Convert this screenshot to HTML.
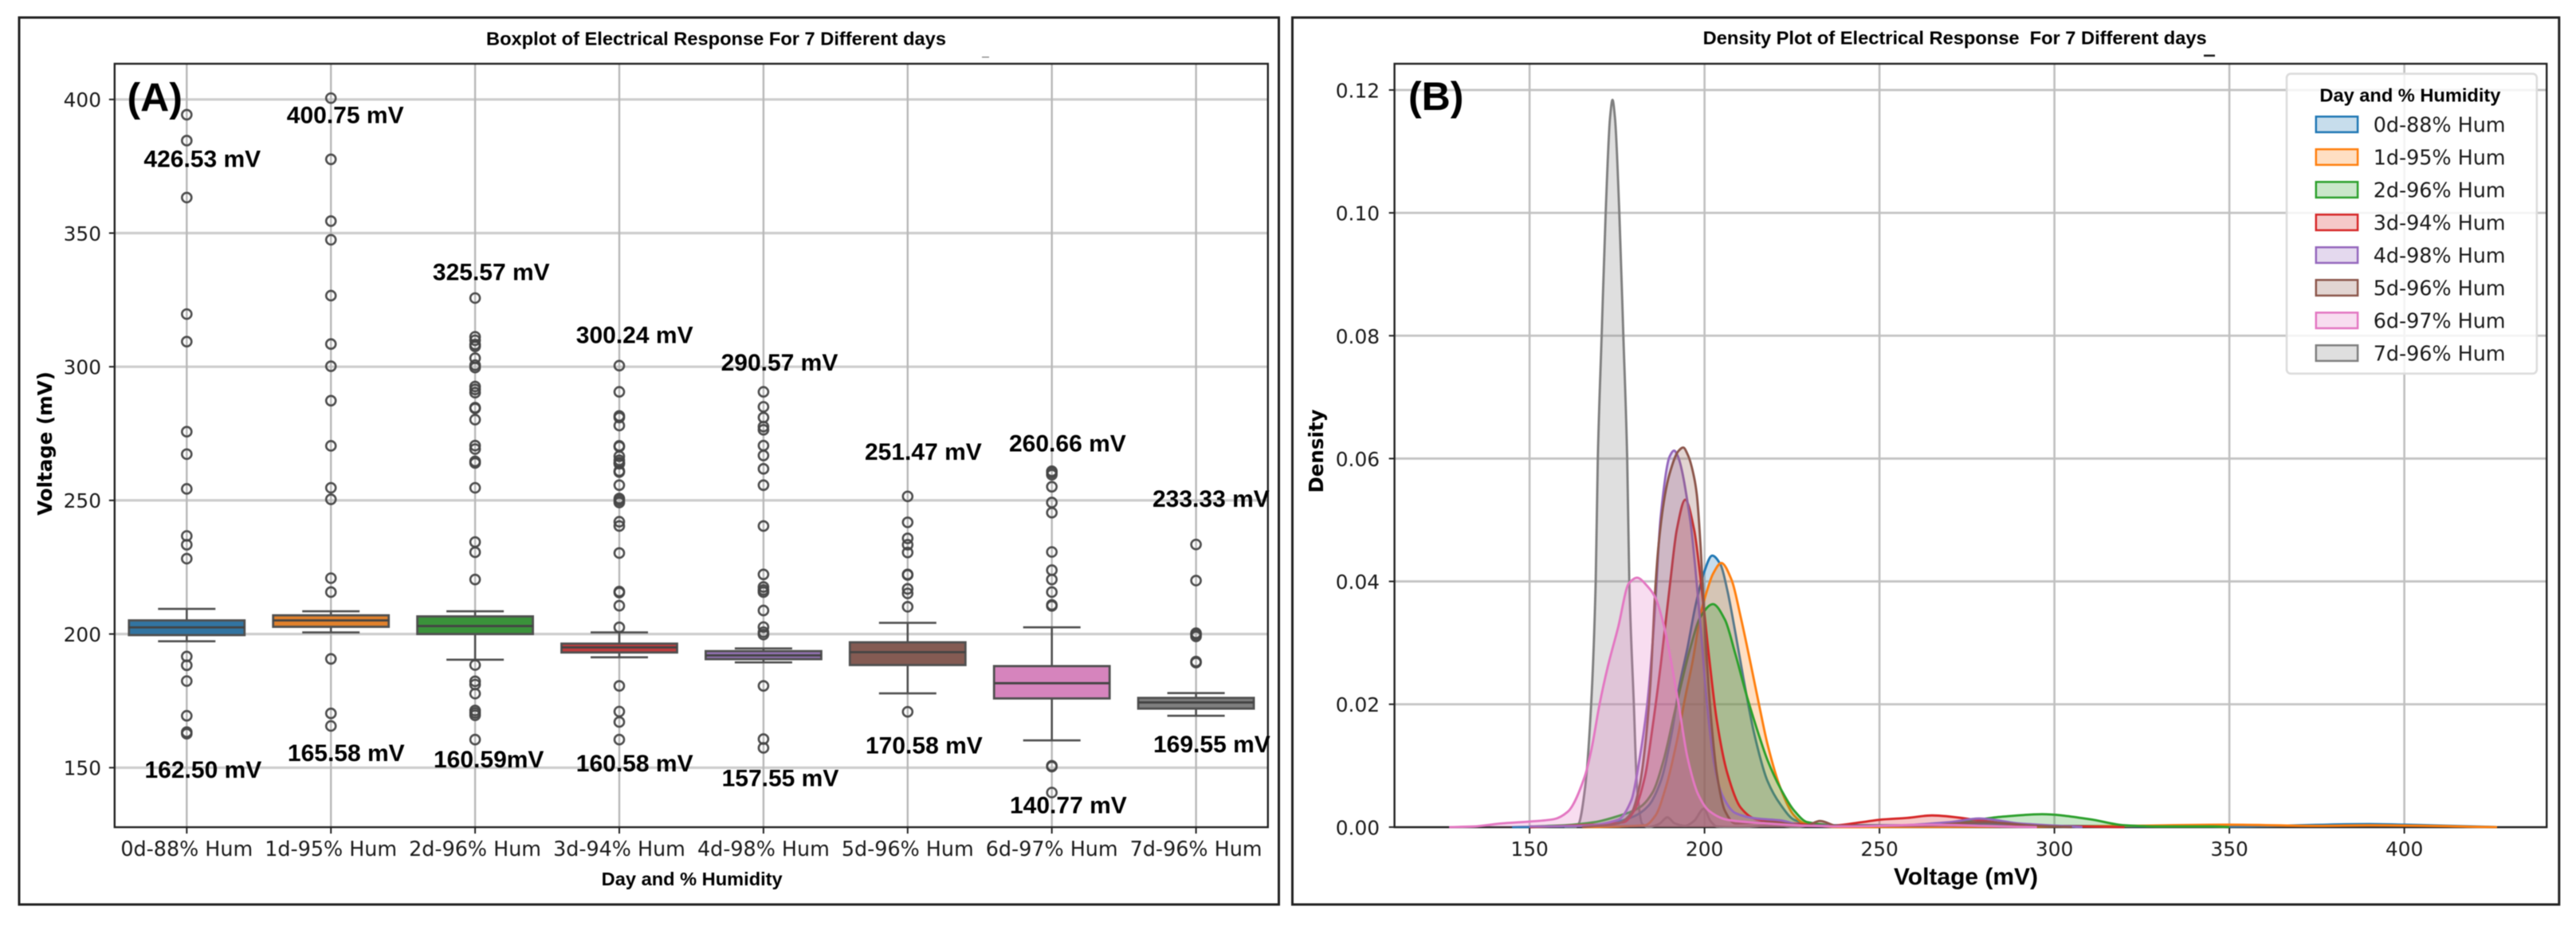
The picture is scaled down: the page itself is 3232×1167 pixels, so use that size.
<!DOCTYPE html>
<html lang="en">
<head>
<meta charset="utf-8">
<title>Electrical Response Boxplot and Density Plot</title>
<style>
html,body{margin:0;padding:0;background:#fff;}
svg{display:block;filter:blur(0.6px);}
.tick{font-family:"DejaVu Sans",sans-serif;font-size:24.8px;fill:#1a1a1a;}
.bold{font-family:"Liberation Sans",sans-serif;font-weight:700;fill:#000;}
.note{font-family:"Liberation Sans",sans-serif;font-weight:700;font-size:30px;fill:#000;}
.axis-dj{font-family:"DejaVu Sans",sans-serif;font-weight:700;font-size:24.5px;fill:#000;}
</style>
</head>
<body>
<svg id="figure" xmlns="http://www.w3.org/2000/svg" width="3232" height="1167" viewBox="0 0 3232 1167">
  <rect x="0" y="0" width="3232" height="1167" fill="#fff"/>
  <rect x="24" y="22" width="1580.5" height="1113" fill="none" stroke="#222" stroke-width="3"/>
  <rect x="1621.5" y="22" width="1589.3" height="1113" fill="none" stroke="#222" stroke-width="3"/>

  <g id="boxplot"></g>
  <g id="density"></g>

  <text class="bold" x="610" y="56.5" font-size="23" textLength="577" lengthAdjust="spacingAndGlyphs">Boxplot of Electrical Response For 7 Different days</text>
  <rect x="1232" y="71" width="9" height="1.4" fill="#888"/>
  <text class="bold" x="754.7" y="1111" font-size="23" textLength="227" lengthAdjust="spacingAndGlyphs">Day and % Humidity</text>
  <text class="axis-dj" text-anchor="middle" transform="translate(65 556.5) rotate(-90)">Voltage (mV)</text>
  <text class="bold" x="159.5" y="139.7" font-size="50">(A)</text>

  <text class="note" x="180.4" y="209.7">426.53 mV</text>
  <text class="note" x="359.8" y="154.6">400.75 mV</text>
  <text class="note" x="542.9" y="351.3">325.57 mV</text>
  <text class="note" x="722.8" y="430.5">300.24 mV</text>
  <text class="note" x="904.6" y="465">290.57 mV</text>
  <text class="note" x="1085" y="577">251.47 mV</text>
  <text class="note" x="1266" y="566.4">260.66 mV</text>
  <text class="note" x="1446" y="636.2">233.33 mV</text>
  <text class="note" x="181.5" y="976">162.50 mV</text>
  <text class="note" x="360.9" y="955">165.58 mV</text>
  <text class="note" x="544" y="963">160.59mV</text>
  <text class="note" x="722.8" y="968">160.58 mV</text>
  <text class="note" x="905.6" y="986.6">157.55 mV</text>
  <text class="note" x="1086" y="945.4">170.58 mV</text>
  <text class="note" x="1267" y="1020.7">140.77 mV</text>
  <text class="note" x="1447" y="944">169.55 mV</text>

  <text class="bold" x="2136.7" y="55.5" font-size="23" textLength="632" lengthAdjust="spacingAndGlyphs" xml:space="preserve">Density Plot of Electrical Response &#160;For 7 Different days</text>
  <rect x="2765" y="68.5" width="14" height="2.6" fill="#222"/>
  <text class="bold" x="2376" y="1110" font-size="30" textLength="181" lengthAdjust="spacingAndGlyphs">Voltage (mV)</text>
  <text class="axis-dj" text-anchor="middle" transform="translate(1660 566) rotate(-90)">Density</text>
  <text class="bold" x="1767" y="137.8" font-size="50">(B)</text>
</svg>

<script>
/* ---------- Boxplot data (mV) ---------- */
const categories = ["0d-88% Hum","1d-95% Hum","2d-96% Hum","3d-94% Hum","4d-98% Hum","5d-96% Hum","6d-97% Hum","7d-96% Hum"];
const boxColors = ["#3274a1","#e1812c","#3a923a","#c03d3e","#9372b2","#845b53","#d684bd","#7f7f7f"];
const whiskerLow  = [197.3,200.6,190.4,191.3,189.4,177.8,160.2,169.4];
const quartile1   = [199.6,202.7,200.0,193.1,190.6,188.4,175.9,172.1];
const medians     = [202.5,205.1,203.0,195.0,192.0,193.2,181.6,174.4];
const quartile3   = [205.1,207.0,206.6,196.4,193.6,196.9,188.0,176.1];
const whiskerHigh = [209.4,208.5,208.5,200.6,194.6,204.2,202.5,177.9];
const fliers0 = [394.3,384.6,363.3,319.7,309.4,275.7,267.3,254.3,236.7,233.4,228.2,191.6,188.3,182.4,169.4,163.3,162.7];
const fliers1 = [400.5,377.6,354.5,347.5,326.6,308.5,300.2,287.3,270.4,254.7,250.4,220.9,215.7,190.7,170.3,165.6];
const fliers2 = [325.7,311.2,309.9,308.3,307.6,303.2,300.6,299.7,292.6,291.5,290.3,284.7,284.4,280.2,270.5,269.2,264.6,264,254.7,234.4,230.6,220.4,188.4,182.3,181.1,177.7,171.4,170.5,169.6,160.5];
const fliers3 = [300.4,290.6,281.6,281,278,270.4,270.1,266.5,265,264.1,263.7,261,260.6,255.7,250.7,250,249.2,242,240.4,230.3,215.9,215.5,210.6,202.5,180.6,171,167.1,160.5];
const fliers4 = [290.6,285,281,277.6,276.4,270.5,266.8,261.8,255.7,240.4,222.3,217.6,216.5,215.7,208.8,202.6,200.7,199.8,180.6,160.7,157.4];
const fliers5 = [251.5,241.8,235.8,233.4,230.5,222.3,222.1,216.9,215.2,210.2,170.9];
const fliers6 = [260.9,260.4,259.6,255.1,249.2,245.4,230.7,223.9,220.4,215.7,210.9,210.5,150.7,150.4,140.7];
const fliers7 = [233.5,220,200.3,199.8,199.1,189.7,189.3];
const allFliers = [fliers0,fliers1,fliers2,fliers3,fliers4,fliers5,fliers6,fliers7];
const voltageTicks = [150,200,250,300,350,400];

/* ---------- Density data: voltage (mV) and density ---------- */
const seriesColors = ["#1f77b4","#ff7f0e","#2ca02c","#d62728","#9467bd","#8c564b","#e377c2","#7f7f7f"];
const voltages0 = [145,165,175,180,184,187.5,190.6,192.8,195.1,197.4,199.7,202.2,204.6,206.5,208.8,211.1,214.2,218,221.8,225.6,232,260,280,300,350,390,400,420,426.5];
const density0  = [0,.0002,.0009,.0018,.0035,.0075,.0152,.023,.0291,.036,.0412,.0442,.0427,.0386,.0317,.0243,.0152,.0075,.0036,.0012,.0003,.0003,.0006,.0002,.0001,.0005,.0004,.0001,0];
const voltages1 = [165,183,186,189,192.1,194.4,196.7,198.9,200.5,202.4,204.8,207.7,210.3,213.4,215.7,218,221.8,225.6,228.6,240,300,320,350,375,390,426.5];
const density1  = [0,.0003,.0019,.0066,.014,.0209,.0273,.0347,.0381,.0412,.043,.0403,.0343,.026,.0196,.0135,.0062,.0019,.0006,0,.0001,.0002,.0004,.0002,.0003,0];
const voltages2 = [150,160,168.5,175.3,181.4,185.2,188.3,191.3,193.6,195.9,198.9,202.4,205.8,208.8,211.9,214.9,218,221.8,225.6,229.4,240,260,275,285,296.5,310,320,330,345,350];
const density2  = [.0001,.0003,.0008,.0018,.0032,.0057,.0109,.0183,.0239,.0291,.0343,.0363,.0338,.0282,.0217,.0161,.0109,.0062,.0027,.0008,.0002,.0003,.001,.0017,.0021,.0013,.0003,.0001,.0001,0];
const voltages3 = [150,164.7,176.9,179.9,183,185.2,187.5,190.2,192.1,194.5,197,198.9,201.2,203.5,206.5,210.3,214.2,218,225.6,235,245,250,258,265,280,290,300,320];
const density3  = [0,.0003,.0008,.0027,.0083,.0165,.0265,.0399,.0485,.0533,.0485,.0403,.0282,.0174,.0088,.0032,.0014,.001,.0006,.0002,.0008,.0012,.0015,.0019,.001,.0004,.0002,0];
const voltages4 = [150,165,175.3,179.1,181.4,183.7,185.6,187.5,190,191.3,192.2,195.9,197.4,198.9,200.5,202.7,205,208.8,214.9,221.8,227.9,250,270,278.5,290,308];
const density4  = [.0001,.0002,.0012,.0044,.011,.0204,.0334,.0507,.0603,.0613,.0606,.05,.042,.0325,.0213,.0105,.0053,.0023,.0014,.0011,.0003,.0002,.0008,.0014,.0006,0];
const voltages5 = [165,175.3,179.1,181.4,183,184.5,186,186.8,188.7,190,192.5,193.9,195.3,197,197.8,198.9,200.1,201.6,203.5,205.8,208.8,218,229,233,238,260,280,295,305];
const density5  = [0,.0006,.0023,.0066,.0131,.023,.0394,.0455,.0541,.0575,.0612,.0618,.0605,.057,.0541,.0455,.0325,.0196,.0088,.0027,.0006,.0008,.0003,.001,.0002,.0002,.0008,.0002,0];
const voltages6 = [127,134,141.9,150,157,160.9,165.8,167.7,170,172.3,175.3,178.4,180.7,183.7,186,188.3,192.6,195.1,198.2,201.2,206.5,218,230,240,265,285,295];
const density6  = [0,.0001,.0006,.0009,.0013,.0025,.0083,.0127,.02,.026,.0325,.0397,.0406,.0392,.0373,.033,.02,.0114,.0053,.0027,.0012,.0006,.0002,.0001,.0004,.0001,0];
const voltages7 = [160,163,164,165.9,167.6,168.9,169.5,170.6,171.75,173,173.7,174.4,175.65,176.8,177.9,178.5,179.8,180.7,182.2,184,187,189.4,191.5,194.4,197,199.8,201.7,203.5,210,220,226,233,238];
const density7  = [0,0,.0005,.0066,.02,.04,.06,.08,.1,.1155,.1184,.1155,.1,.08,.06,.04,.02,.0066,.0005,0,.0005,.0016,.0006,.0002,.001,.003,.001,.0001,0,.0003,0,.0005,0];
const voltageSeries = [voltages0,voltages1,voltages2,voltages3,voltages4,voltages5,voltages6,voltages7];
const densitySeries = [density0,density1,density2,density3,density4,density5,density6,density7];
const drawOrder = [7,0,1,2,3,4,5,6];
const densityTicks = [0,0.02,0.04,0.06,0.08,0.10,0.12];
const boxTicks = [150,200,250,300,350,400];

/* ---------- Scales ---------- */
const boxArea = {left:143.8, right:1590.8, top:80, bottom:1038};
const densArea = {left:1749.6, right:3195.2, top:80, bottom:1038};
function boxX(i){ return 234.3 + i * 180.9; }
function boxY(v){ return 795.6 - (v - 200) * 3.354; }
function densX(v){ return 1919.1 + (v - 150) * 4.39; }
function densY(d){ return 1037.9 - d * 7708; }

const NS = "http://www.w3.org/2000/svg";
function make(tag, attrs, parent, text){
  const el = document.createElementNS(NS, tag);
  for (const k in attrs) el.setAttribute(k, attrs[k]);
  if (text !== undefined) el.textContent = text;
  parent.appendChild(el);
  return el;
}

/* Monotone cubic path through data points, no overshoot */
function smoothPath(xs, ys){
  const n = xs.length, dx = [], m = [], t = [];
  for (let i = 0; i < n - 1; i++){ dx[i] = xs[i+1] - xs[i]; m[i] = (ys[i+1] - ys[i]) / dx[i]; }
  t[0] = m[0]; t[n-1] = m[n-2];
  for (let i = 1; i < n - 1; i++){
    if (m[i-1] * m[i] <= 0) t[i] = 0;
    else {
      const w1 = 2 * dx[i] + dx[i-1], w2 = dx[i] + 2 * dx[i-1];
      t[i] = (w1 + w2) / (w1 / m[i-1] + w2 / m[i]);
    }
  }
  let d = "M" + xs[0].toFixed(2) + " " + ys[0].toFixed(2);
  for (let i = 0; i < n - 1; i++){
    const c1x = xs[i] + dx[i] / 3, c1y = ys[i] + t[i] * dx[i] / 3;
    const c2x = xs[i+1] - dx[i] / 3, c2y = ys[i+1] - t[i+1] * dx[i] / 3;
    d += "C" + c1x.toFixed(2) + " " + c1y.toFixed(2) + " " + c2x.toFixed(2) + " " + c2y.toFixed(2) + " " + xs[i+1].toFixed(2) + " " + ys[i+1].toFixed(2);
  }
  return d;
}

/* ---------- Panel A: boxplot ---------- */
const gA = document.getElementById("boxplot");
boxTicks.forEach(function(v){
  const y = boxY(v);
  const line = make("line", {x1:boxArea.left, x2:boxArea.right, y1:y, y2:y, stroke:"#cdcdcd", "stroke-width":3.2}, gA);
  
  
  const tick = make("line", {x1:boxArea.left-7, x2:boxArea.left, y1:y, y2:y, stroke:"#222", "stroke-width":2}, gA);
  
  
  const label = make("text", {class:"tick", x:127, y:y+9.3, "text-anchor":"end"}, gA, String(v));
  
  
});
categories.forEach(function(name, i){
  const x = boxX(i);
  const line = make("line", {x1:x, x2:x, y1:boxArea.top, y2:boxArea.bottom, stroke:"#b8b8b8", "stroke-width":2.4}, gA);
  
  
  const tick = make("line", {x1:x, x2:x, y1:boxArea.bottom, y2:boxArea.bottom+8, stroke:"#222", "stroke-width":2}, gA);
  
  
  const label = make("text", {class:"tick", x:x, y:1074, "text-anchor":"middle", style:"font-size:25.4px"}, gA, name);
  
  
});
categories.forEach(function(name, i){
  const x = boxX(i), half = 72.5, cap = 36;
  const boxStroke = "#505050";
  const whisker = make("line", {x1:x, x2:x, y1:boxY(whiskerLow[i]), y2:boxY(whiskerHigh[i]), stroke:boxStroke, "stroke-width":2.6}, gA);
  
  
  [whiskerLow[i], whiskerHigh[i]].forEach(function(v){
    const c = make("line", {x1:x-cap, x2:x+cap, y1:boxY(v), y2:boxY(v), stroke:boxStroke, "stroke-width":2.6}, gA);
    
    
  });
  const rect = make("rect", {x:x-half, width:half*2, y:boxY(quartile3[i]), height:boxY(quartile1[i])-boxY(quartile3[i]), fill:boxColors[i], stroke:boxStroke, "stroke-width":2.8}, gA);
  
  
  const med = make("line", {x1:x-half, x2:x+half, y1:boxY(medians[i]), y2:boxY(medians[i]), stroke:"#444", "stroke-width":2.8}, gA);
  
  
  allFliers[i].forEach(function(v){
    const f = make("circle", {cx:x, cy:boxY(v), r:6, fill:"none", stroke:"#444", "stroke-opacity":0.95, "stroke-width":2.6}, gA);
    
    
  });
});
const spineA = make("rect", {x:boxArea.left, y:boxArea.top, width:boxArea.right-boxArea.left, height:boxArea.bottom-boxArea.top, fill:"none", stroke:"#222", "stroke-width":2.4}, gA);



/* ---------- Panel B: density ---------- */
const gB = document.getElementById("density");
densityTicks.forEach(function(v){
  const y = densY(v);
  const line = make("line", {x1:densArea.left, x2:densArea.right, y1:y, y2:y, stroke:"#c4c4c4", "stroke-width":2.8}, gB);
  
  
  const tick = make("line", {x1:densArea.left-7, x2:densArea.left, y1:y, y2:y, stroke:"#222", "stroke-width":2}, gB);
  
  
  const label = make("text", {class:"tick", x:1731, y:y+9.5, "text-anchor":"end"}, gB, v.toFixed(2));
  
  
});
voltageTicks.forEach(function(v){
  const x = densX(v);
  const line = make("line", {x1:x, x2:x, y1:densArea.top, y2:densArea.bottom, stroke:"#c0c0c0", "stroke-width":2.6}, gB);
  
  
  const tick = make("line", {x1:x, x2:x, y1:densArea.bottom, y2:densArea.bottom+8, stroke:"#222", "stroke-width":2}, gB);
  
  
  const label = make("text", {class:"tick", x:x, y:1074, "text-anchor":"middle"}, gB, String(v));
  
  
});
const spineB = make("rect", {x:densArea.left, y:densArea.top, width:densArea.right-densArea.left, height:densArea.bottom-densArea.top, fill:"none", stroke:"#222", "stroke-width":2.4}, gB);



drawOrder.forEach(function(s){
  const xs = voltageSeries[s].map(densX);
  const ys = densitySeries[s].map(densY);
  const curve = smoothPath(xs, ys);
  const base = densY(0).toFixed(2);
  const area = make("path", {d:curve + "L" + xs[xs.length-1].toFixed(2) + " " + base + "L" + xs[0].toFixed(2) + " " + base + "Z", fill:seriesColors[s], "fill-opacity":0.25, stroke:"none"}, gB);
  
  
  const line = make("path", {d:curve, fill:"none", stroke:seriesColors[s], "stroke-width":2.9, "stroke-linejoin":"round"}, gB);
  
  
});

/* Legend */
const legendBox = make("rect", {x:2869, y:92.6, width:313.8, height:376.2, rx:5, fill:"#fff", "fill-opacity":0.82, stroke:"#dcdcdc", "stroke-width":2.6}, gB);


const legendTitle = make("text", {class:"bold", x:2910.4, y:127.4, "font-size":23, textLength:227, lengthAdjust:"spacingAndGlyphs"}, gB, "Day and % Humidity");


categories.forEach(function(name, i){
  const cy = 156.1 + i * 41.0;
  const sw = make("rect", {x:2905.8, y:cy-9.8, width:52.3, height:19.6, fill:seriesColors[i], "fill-opacity":0.25, stroke:seriesColors[i], "stroke-width":2.5}, gB);
  
  
  const tx = make("text", {class:"tick", x:2977.7, y:cy+9.3, style:"font-size:25.4px"}, gB, name);
  
  
});
</script>
</body>
</html>
